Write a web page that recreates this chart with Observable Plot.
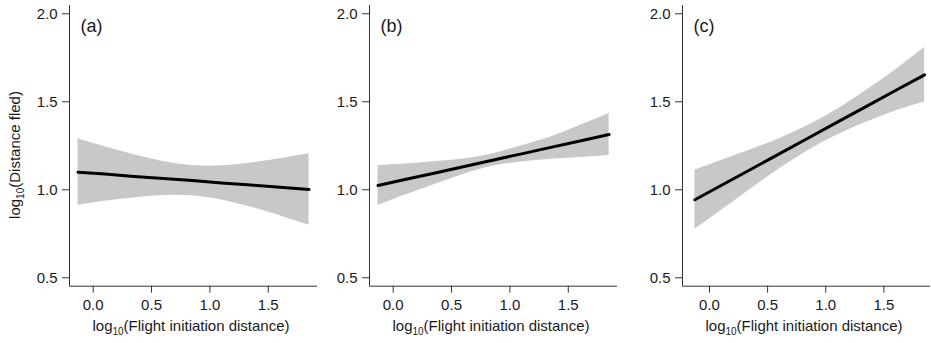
<!DOCTYPE html>
<html>
<head>
<meta charset="utf-8">
<script src="https://cdn.jsdelivr.net/npm/d3@7"></script>
<script src="https://cdn.jsdelivr.net/npm/@observablehq/plot@0.6"></script>
<style>
  html, body { margin: 0; padding: 0; background: white; }
  #chart { position: relative; width: 931px; height: 343px; overflow: hidden; background: white; }
  #chart svg { position: absolute; top: 0; }
</style>
</head>
<body>
<div id="chart"></div>
<script>
// ---- data ----
const panelLabels = ["(a)", "(b)", "(c)"];
const xTicks = [0, 0.5, 1.0, 1.5];
const yTicks = [0.5, 1.0, 1.5, 2.0];
const xLabel = ["log", "10", "(Flight initiation distance)"];
const yLabel = ["log", "10", "(Distance fled)"];

const xA = [-0.13, 0.1, 0.35, 0.6, 0.85, 1.1, 1.35, 1.6, 1.85];
const fitA = [1.100, 1.089, 1.076, 1.064, 1.052, 1.039, 1.027, 1.014, 1.002];
const lowA = [0.910, 0.934, 0.953, 0.967, 0.966, 0.942, 0.902, 0.852, 0.799];
const upA  = [1.290, 1.244, 1.199, 1.161, 1.138, 1.136, 1.152, 1.176, 1.205];

const xB = [-0.13, 0.1, 0.35, 0.6, 0.85, 1.1, 1.35, 1.6, 1.85];
const fitB = [1.024, 1.058, 1.094, 1.131, 1.168, 1.204, 1.241, 1.277, 1.314];
const lowB = [0.910, 0.969, 1.029, 1.087, 1.133, 1.158, 1.173, 1.184, 1.195];
const upB  = [1.138, 1.147, 1.159, 1.175, 1.203, 1.250, 1.300, 1.365, 1.433];

const xC = [-0.125, 0.1, 0.35, 0.6, 0.85, 1.1, 1.35, 1.6, 1.85];
const fitC = [0.943, 1.024, 1.114, 1.204, 1.294, 1.384, 1.474, 1.564, 1.653];
const lowC = [0.775, 0.882, 1.002, 1.118, 1.223, 1.311, 1.383, 1.447, 1.498];
const upC  = [1.111, 1.166, 1.226, 1.290, 1.366, 1.457, 1.565, 1.681, 1.808];

// ---- layout ----
const H = 343, MT = 5, MB = 57.3, PW = 248;
const yDomain = [0.452, 2.047];
const axisColor = "#333";
const font = "'Liberation Sans', Arial, Helvetica, sans-serif";

function subLabel(sel, parts, attrs) {
  const t = sel.append("text")
    .attr("font-family", font)
    .attr("font-size", 15)
    .attr("fill", "#1a1a1a")
    .attr("text-anchor", "middle");
  for (const [k, v] of Object.entries(attrs)) t.attr(k, v);
  t.append("tspan").text(parts[0]);
  t.append("tspan").attr("font-size", 10).attr("dy", 4).text(parts[1]);
  t.append("tspan").attr("dy", -4).text(parts[2]);
  return t;
}

function panel({xs, fit, low, up, label, left, width, marginLeft, xDomain, withYLabel}) {
  const data = xs.map((x, i) => ({x, fit: fit[i], low: low[i], up: up[i]}));
  const svg = Plot.plot({
    width, height: H,
    marginLeft, marginRight: width - marginLeft - PW, marginTop: MT, marginBottom: MB,
    style: {fontFamily: font, fontSize: "15px", color: "#1a1a1a", background: "transparent", overflow: "visible"},
    x: {domain: xDomain},
    y: {domain: yDomain},
    marks: [
      Plot.areaY(data, {x: "x", y1: "low", y2: "up", fill: "#c8c8c8", curve: "natural"}),
      Plot.lineY(data, {x: "x", y: "fit", stroke: "black", strokeWidth: 3}),
      Plot.ruleX([xDomain[0]], {stroke: axisColor, strokeWidth: 1}),
      Plot.ruleY([yDomain[0]], {stroke: axisColor, strokeWidth: 1}),
      Plot.axisX({ticks: xTicks, tickFormat: d3.format(".1f"), tickSize: 7, tickPadding: 6, label: null, stroke: axisColor, fontSize: 15}),
      Plot.axisY({ticks: yTicks, tickFormat: d3.format(".1f"), tickSize: 7, tickPadding: 5, label: null, stroke: axisColor, fontSize: 15}),
      Plot.text([label], {text: d => d, frameAnchor: "top-left", textAnchor: "start", lineAnchor: "top", dx: 11, dy: 14, fontSize: 18, fill: "#1a1a1a"})
    ]
  });
  svg.style.left = left + "px";
  const s = d3.select(svg);
  subLabel(s, xLabel, {x: marginLeft + PW / 2 - 2, y: 331});
  if (withYLabel) {
    subLabel(s, yLabel, {transform: "translate(20,155) rotate(-90)"});
  }
  document.getElementById("chart").appendChild(svg);
}

panel({xs: xA, fit: fitA, low: lowA, up: upA, label: panelLabels[0], left: 0, width: 320, marginLeft: 69, xDomain: [-0.203, 1.922], withYLabel: true});
panel({xs: xB, fit: fitB, low: lowB, up: upB, label: panelLabels[1], left: 300, width: 320, marginLeft: 69, xDomain: [-0.203, 1.922], withYLabel: false});
panel({xs: xC, fit: fitC, low: lowC, up: upC, label: panelLabels[2], left: 613, width: 318, marginLeft: 69, xDomain: [-0.232, 1.901], withYLabel: false});
</script>
</body>
</html>
